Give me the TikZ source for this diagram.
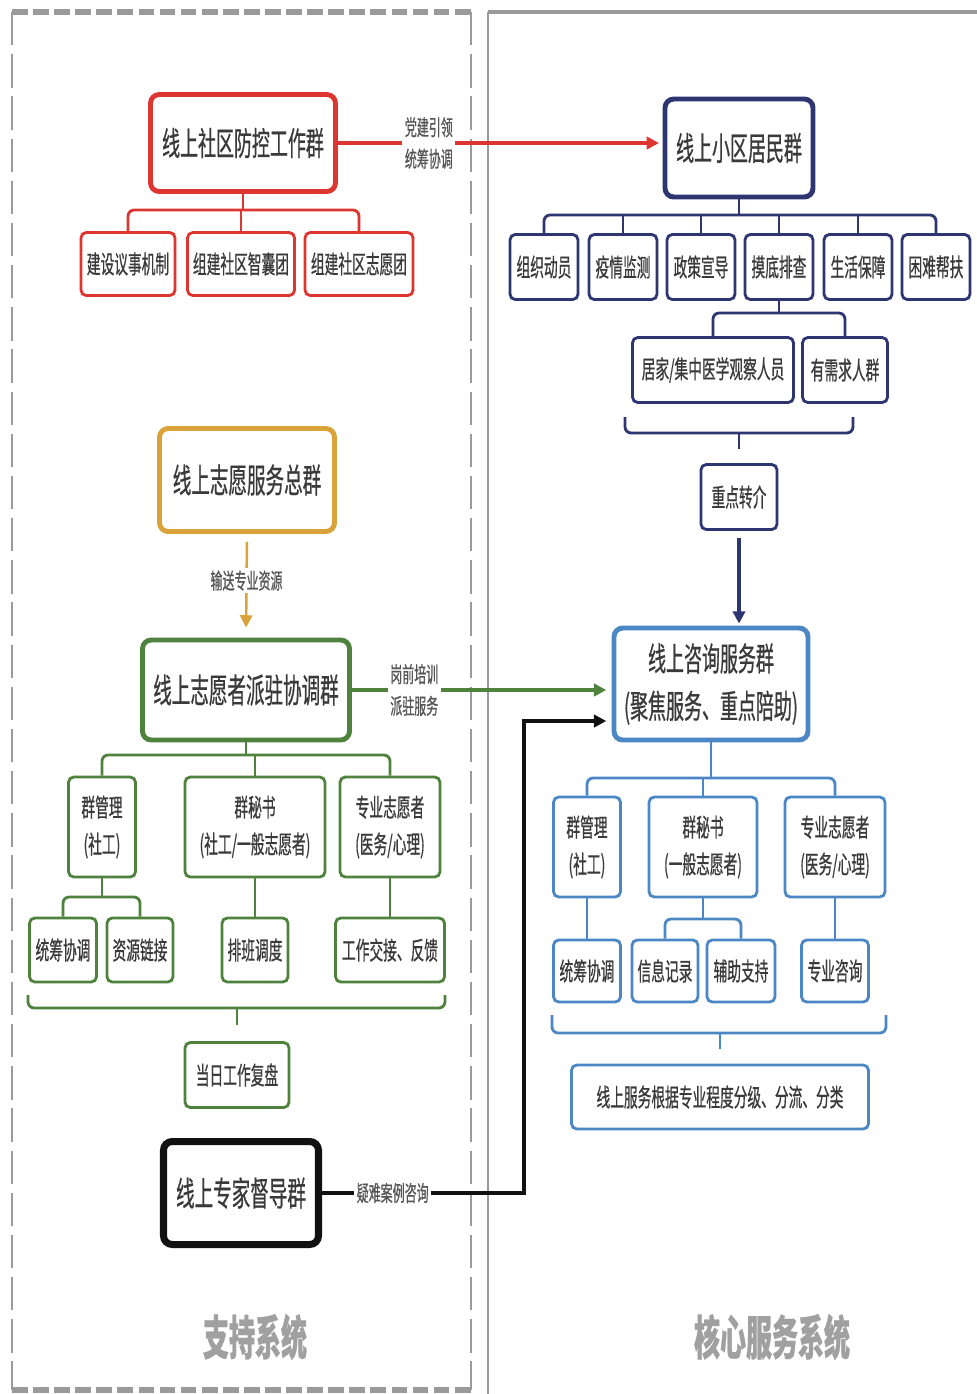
\documentclass[tikz,border=0pt]{standalone}
\usepackage{fontspec}
\newfontfamily\cjk[FakeStretch=0.55, FakeBold=0.6]{Noto Sans CJK SC}
\usetikzlibrary{arrows.meta}

\definecolor{fangred}{HTML}{DD3530}
\definecolor{navy}{HTML}{2E3672}
\definecolor{gold}{HTML}{D9A33A}
\definecolor{leaf}{HTML}{4F823C}
\definecolor{sky}{HTML}{4C87C5}
\definecolor{ink}{HTML}{111111}
\definecolor{framegray}{HTML}{9A9A9A}
\definecolor{txt}{HTML}{3A3A3A}
\definecolor{lbltxt}{HTML}{555555}
\definecolor{systxt}{HTML}{A0A0A0}

\begin{document}
\begin{tikzpicture}[x=0.02cm, y=-0.02cm,
  box/.style={draw, fill=white, rounded corners=3pt, line width=1.6pt, text=txt, align=center, inner sep=0pt, font=\cjk\fontsize{14.2}{21}\selectfont},
  wh/.style 2 args={minimum width={#1*0.02cm}, minimum height={#2*0.02cm}},
  head/.style={box, line width=2.8pt, rounded corners=5pt, font=\cjk\fontsize{18.6}{27}\selectfont},
  lbl/.style={fill=white, text=lbltxt, align=center, inner sep=1.5pt, font=\cjk\fontsize{12.4}{18}\selectfont},
  link/.style={line width=1.6pt, rounded corners=3.5pt},
  flow/.style={-{Triangle[length=7pt,width=7pt]}},
  sys/.style={text=systxt, font=\cjk\bfseries\fontsize{26.9}{30}\selectfont}]

\fill[white] (0,0) rectangle (977,1394);
\useasboundingbox (0,0) rectangle (977,1394);

% frames
\draw[framegray, line width=3pt, dash pattern=on 9pt off 3pt] (12,12) -- (471,12);
\draw[framegray, line width=3pt, dash pattern=on 9pt off 3pt] (12,1390) -- (471,1390);
\draw[framegray, line width=1.4pt, dash pattern=on 19pt off 5pt] (12,12) -- (12,1390);
\draw[framegray, line width=1.4pt, dash pattern=on 19pt off 5pt] (471,12) -- (471,1390);
\draw[framegray, line width=2.8pt] (977,12) -- (488,12);
\draw[framegray, line width=1.7pt] (488,12) -- (488,1394);

% support system
\node[head, draw=fangred, wh={185}{97}] (prevent) at (243,143) {线上社区防控工作群};
\node[box, draw=fangred, wh={94}{63}] (rule) at (128,264) {建设议事机制};
\node[box, draw=fangred, wh={107}{63}] (think) at (241,264) {组建社区智囊团};
\node[box, draw=fangred, wh={108}{63}] (volun) at (359,264) {组建社区志愿团};
\draw[link, fangred] (rule.north) -- (rule.north |- 0,210) -- (volun.north |- 0,210) -- (volun.north);
\draw[link, fangred] (prevent.south) -- (prevent.south |- 0,210);
\draw[link, fangred] (think.north) -- (think.north |- 0,210);

\node[head, draw=gold, wh={175}{103}, font=\cjk\fontsize{19.2}{27}\selectfont] (vhub) at (247,480) {线上志愿服务总群};
\node[head, draw=leaf, wh={207}{100}, font=\cjk\fontsize{19.2}{27}\selectfont] (dispatch) at (246,690) {线上志愿者派驻协调群};
\draw[line width=1.4pt, gold, flow, shorten <=0.16cm, shorten >=0.2cm] (vhub.south) -- node[lbl, pos=0.45] {输送专业资源} (dispatch.north);

\node[box, draw=leaf, wh={67}{100}] (gmgr) at (102,827) {群管理\\(社工)};
\node[box, draw=leaf, wh={140}{100}] (gsec) at (255,827) {群秘书\\(社工/一般志愿者)};
\node[box, draw=leaf, wh={100}{100}] (gpro) at (390,827) {专业志愿者\\(医务/心理)};
\draw[link, leaf] (gmgr.north) -- (gmgr.north |- 0,755) -- (gpro.north |- 0,755) -- (gpro.north);
\draw[link, leaf] (dispatch.south) -- (dispatch.south |- 0,755);
\draw[link, leaf] (gsec.north) -- (gsec.north |- 0,755);

\node[box, draw=leaf, wh={67}{64}] (gcoord) at (63,950) {统筹协调};
\node[box, draw=leaf, wh={66}{64}] (glink) at (140,950) {资源链接};
\node[box, draw=leaf, wh={66}{64}] (gsched) at (255,950) {排班调度};
\node[box, draw=leaf, wh={109}{64}] (ghand) at (390,950) {工作交接、反馈};
\draw[link, leaf] (gcoord.north) -- (gcoord.north |- 0,897) -- (glink.north |- 0,897) -- (glink.north);
\draw[link, leaf] (gmgr.south) -- (gmgr.south |- 0,897);
\draw[link, leaf] (gsec.south) -- (gsched.north);
\draw[link, leaf] (gpro.south) -- (ghand.north);

\node[box, draw=leaf, wh={104}{65}] (review) at (237,1075) {当日工作复盘};
\coordinate (gbl) at (28,995);
\coordinate (gbr) at (445,995);
\draw[link, leaf] (gbl) |- (237,1008) -| (gbr);
\draw[link, leaf, shorten >=0.32cm] (review.north |- 0,1008) -- (review.north);

\node[head, draw=ink, line width=4pt, wh={155}{103}, font=\cjk\fontsize{19.2}{27}\selectfont] (expert) at (241,1193) {线上专家督导群};

% core service system
\node[head, draw=navy, wh={148}{98}] (resident) at (739,148) {线上小区居民群};
\draw[line width=2pt, fangred, flow, shorten >=2pt] (prevent.east) -- node[lbl, pos=0.28] {党建引领\\统筹协调} (prevent.east -| resident.west);

\node[box, draw=navy, wh={68}{65}] (org) at (544,267) {组织动员};
\node[box, draw=navy, wh={68}{65}] (epi) at (623,267) {疫情监测};
\node[box, draw=navy, wh={68}{65}] (policy) at (701,267) {政策宣导};
\node[box, draw=navy, wh={68}{65}] (survey) at (779,267) {摸底排查};
\node[box, draw=navy, wh={68}{65}] (life) at (858,267) {生活保障};
\node[box, draw=navy, wh={68}{65}] (aid) at (936,267) {困难帮扶};
\draw[link, navy] (org.north) -- (org.north |- 0,215) -- (aid.north |- 0,215) -- (aid.north);
\draw[link, navy] (resident.south) -- (resident.south |- 0,215);
\draw[link, navy] (epi.north) -- (epi.north |- 0,215);
\draw[link, navy] (policy.north) -- (policy.north |- 0,215);
\draw[link, navy] (survey.north) -- (survey.north |- 0,215);
\draw[link, navy] (life.north) -- (life.north |- 0,215);

\node[box, draw=navy, wh={161}{65}] (home) at (713,370) {居家/集中医学观察人员};
\node[box, draw=navy, wh={85}{65}] (need) at (845,370) {有需求人群};
\draw[link, navy] (home.north) -- (home.north |- 0,313) -- (need.north |- 0,313) -- (need.north);
\draw[link, navy] (survey.south) -- (survey.south |- 0,313);

\node[box, draw=navy, wh={76}{65}] (refer) at (739,497) {重点转介};
\coordinate (nbl) at (625,417);
\coordinate (nbr) at (853,417);
\draw[link, navy] (nbl) |- (739,433) -| (nbr);
\draw[link, navy, shorten >=0.28cm] (refer.north |- 0,433) -- (refer.north);

\node[head, draw=sky, wh={194}{112}] (consult) at (711,684) {线上咨询服务群\\(聚焦服务、重点陪助)};
\draw[line width=1.8pt, navy, flow, shorten <=0.14cm, shorten >=0.04cm] (refer.south) -- (refer.south |- consult.north);
\draw[line width=2pt, leaf, flow, shorten >=3pt] (dispatch.east) -- node[lbl, pos=0.24] {岗前培训\\派驻服务} (dispatch.east -| consult.west);
\draw[line width=2.2pt, ink, flow, shorten >=3pt] (expert.east) -- node[lbl, pos=0.35] {疑难案例咨询} (expert.east -| 524,0) |- (consult.west |- 0,721);

\node[box, draw=sky, wh={67}{100}] (cmgr) at (587,847) {群管理\\(社工)};
\node[box, draw=sky, wh={108}{100}] (csec) at (703,847) {群秘书\\(一般志愿者)};
\node[box, draw=sky, wh={100}{100}] (cpro) at (835,847) {专业志愿者\\(医务/心理)};
\draw[link, sky] (cmgr.north) -- (cmgr.north |- 0,778) -- (cpro.north |- 0,778) -- (cpro.north);
\draw[link, sky] (consult.south) -- (consult.south |- 0,778);
\draw[link, sky] (csec.north) -- (csec.north |- 0,778);

\node[box, draw=sky, wh={67}{62}] (ccoord) at (587,971) {统筹协调};
\node[box, draw=sky, wh={66}{62}] (crecord) at (665,971) {信息记录};
\node[box, draw=sky, wh={68}{62}] (csupport) at (741,971) {辅助支持};
\node[box, draw=sky, wh={67}{62}] (cadvice) at (835,971) {专业咨询};
\draw[link, sky] (cmgr.south) -- (ccoord.north);
\draw[link, sky] (crecord.north) -- (crecord.north |- 0,919) -- (csupport.north |- 0,919) -- (csupport.north);
\draw[link, sky] (csec.south) -- (csec.south |- 0,919);
\draw[link, sky] (cpro.south) -- (cadvice.north);

\node[box, draw=sky, wh={297}{64}] (classify) at (720,1097) {线上服务根据专业程度分级、分流、分类};
\coordinate (cbl) at (552,1015);
\coordinate (cbr) at (886,1015);
\draw[link, sky] (cbl) |- (718,1033) -| (cbr);
\draw[link, sky, shorten >=0.3cm] (classify.north |- 0,1033) -- (classify.north);

% system titles
\node[sys] (suptitle) at (255,1337) {支持系统};
\node[sys] (coretitle) at (772,1337) {核心服务系统};
\end{tikzpicture}
\end{document}
